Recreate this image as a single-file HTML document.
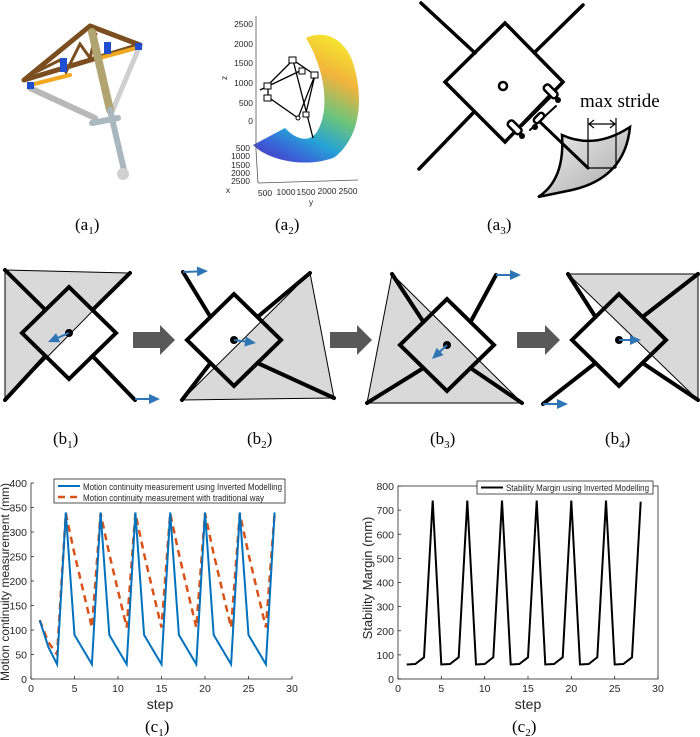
<!DOCTYPE html>
<html><head><meta charset="utf-8"><style>
body{margin:0;background:#fff;}
svg{display:block;font-family:"Liberation Sans",sans-serif;}
.lab{font-family:"Liberation Serif",serif;font-size:17px;}
.tk{font-size:10.5px;fill:#262626;}
</style></head><body>
<svg id="s" width="700" height="737" viewBox="0 0 700 737" xmlns="http://www.w3.org/2000/svg">
<defs>
<linearGradient id="cr" x1="330" y1="35" x2="265" y2="160" gradientUnits="userSpaceOnUse">
<stop offset="0" stop-color="#f6e62c"/><stop offset="0.25" stop-color="#f1b43e"/><stop offset="0.5" stop-color="#6cc47c"/><stop offset="0.72" stop-color="#25a2d6"/><stop offset="0.88" stop-color="#3a62d8"/><stop offset="1" stop-color="#4a3ec0"/></linearGradient>
<linearGradient id="ft" x1="0" y1="0" x2="1" y2="1"><stop offset="0" stop-color="#f2f2f2"/><stop offset="1" stop-color="#a8a8a8"/></linearGradient>
</defs>
<!-- a1 -->
<g stroke-linecap="round">
<line x1="30" y1="88" x2="95" y2="118" stroke="#b8b8b8" stroke-width="6"/>
<line x1="138" y1="50" x2="112" y2="112" stroke="#cfcfcf" stroke-width="5"/>
<polygon points="24,80 90,26 140,45" fill="none" stroke="#7a4e1e" stroke-width="5" stroke-linejoin="round"/>
<polyline points="36,72 60,60 66,72 80,44 90,58 96,34" fill="none" stroke="#7a4e1e" stroke-width="3"/>
<line x1="30" y1="85" x2="70" y2="75" stroke="#f0a820" stroke-width="4"/>
<line x1="100" y1="58" x2="140" y2="47" stroke="#f0a820" stroke-width="4"/>
<rect x="60" y="58" width="7" height="14" fill="#1f4fd0"/><rect x="104" y="42" width="7" height="12" fill="#1f4fd0"/>
<rect x="27" y="82" width="7" height="7" fill="#1f4fd0"/><rect x="135" y="43" width="7" height="7" fill="#1f4fd0"/>
<line x1="92" y1="32" x2="110" y2="110" stroke="#b0a470" stroke-width="8"/>
<line x1="110" y1="110" x2="124" y2="170" stroke="#a8b6be" stroke-width="6"/>
<line x1="92" y1="123" x2="118" y2="118" stroke="#aab8c0" stroke-width="6"/>
<circle cx="123" cy="174" r="6" fill="#d0d0d0"/>
</g>
<text class="lab" x="75" y="230">(a<tspan font-size="11" dy="4">1</tspan><tspan dy="-4">)</tspan></text>
<!-- a2 -->
<path d="M306,38 C322,30 342,36 352,60 C364,95 362,135 335,157 C310,168 270,162 253,145 L285,128 C298,142 312,142 318,130 C330,108 325,70 306,38 Z" fill="url(#cr)"/>
<g fill="none" stroke="#000" stroke-width="1.3">
<polyline points="268,85 293,60 315,75 298,118 268,97 268,85"/>
<line x1="293" y1="60" x2="313" y2="138"/><line x1="315" y1="75" x2="305" y2="117"/><line x1="302" y1="70" x2="260" y2="90"/>
</g>
<g fill="#fff" stroke="#000" stroke-width="1"><rect x="289" y="57" width="7" height="6"/><rect x="299" y="68" width="6" height="6"/><rect x="311" y="72" width="7" height="6"/><rect x="264" y="83" width="7" height="6"/><rect x="264" y="95" width="7" height="6"/><circle cx="298" cy="118" r="2"/><rect x="303" y="112" width="6" height="5"/></g>
<g stroke="#555" stroke-width="0.8"><line x1="256" y1="16" x2="256" y2="150"/><line x1="256" y1="150" x2="258" y2="183"/><line x1="258" y1="183" x2="358" y2="180"/></g>
<g class="tk" text-anchor="end" style="font-size:8.5px"><text x="253" y="27">2500</text><text x="253" y="47">2000</text><text x="253" y="66">1500</text><text x="253" y="86">1000</text><text x="253" y="106">500</text><text x="253" y="124">0</text>
<text x="250" y="151">500</text><text x="250" y="159">1000</text><text x="250" y="168">1500</text><text x="250" y="176">2000</text><text x="250" y="184">2500</text></g>
<g class="tk" style="font-size:8.5px" text-anchor="middle"><text x="265" y="196">500</text><text x="286" y="195">1000</text><text x="306" y="195">1500</text><text x="327" y="194">2000</text><text x="348" y="194">2500</text><text x="311" y="205">y</text><text x="228" y="193">x</text><text x="225" y="80" transform="rotate(-90 225 78)">z</text></g>
<text class="lab" x="275" y="230">(a<tspan font-size="11" dy="4">2</tspan><tspan dy="-4">)</tspan></text>
<!-- a3 -->
<g stroke="#000" stroke-width="3.5" fill="none" stroke-linecap="round">
<line x1="421" y1="3" x2="475" y2="53"/><line x1="583" y1="5" x2="535" y2="52"/><line x1="419" y1="169" x2="474" y2="112"/>
<polygon points="505,23 563,82 505,142 445,82" stroke-linejoin="miter"/>
<path d="M562,135 Q595,150 630,127 Q625,178 572,190 L538,197 Q565,180 562,135 Z" fill="url(#ft)" stroke-width="2.5"/>
<line x1="540" y1="122" x2="588" y2="168" stroke-width="3"/>
<line x1="522" y1="126" x2="550" y2="98" stroke-width="2"/><line x1="530" y1="130" x2="556" y2="106" stroke-width="2"/>
</g>
<circle cx="503" cy="86" r="4" fill="none" stroke="#000" stroke-width="2.5"/>
<g fill="#fff" stroke="#000" stroke-width="2.5"><rect x="543" y="88" width="16" height="7" rx="3" transform="rotate(45 551 91)"/><rect x="507" y="124" width="16" height="7" rx="3" transform="rotate(45 515 127)"/><rect x="533" y="115" width="12" height="6" rx="3" transform="rotate(-45 539 118)"/></g>
<circle cx="558" cy="100" r="3"/><circle cx="522" cy="136" r="3"/><circle cx="535" cy="127" r="3"/>
<g stroke="#000" stroke-width="1.2" fill="none"><line x1="588" y1="118" x2="588" y2="168"/><line x1="616" y1="118" x2="616" y2="168"/><line x1="588" y1="168" x2="616" y2="168"/><line x1="589" y1="124" x2="615" y2="124"/><polyline points="594,120 589,124 594,128"/><polyline points="610,120 615,124 610,128"/></g>
<text x="580" y="107" style="font-family:'Liberation Serif',serif;font-size:19px">max stride</text>
<text class="lab" x="487" y="230">(a<tspan font-size="11" dy="4">3</tspan><tspan dy="-4">)</tspan></text>
<!-- b row -->
<g id="b"></g>
<g fill="#595959"><polygon points="133,332 160,332 160,325 175,340 160,355 160,348 133,348"/><polygon points="330,332 357,332 357,325 372,340 357,355 357,348 330,348"/><polygon points="517,332 545,332 545,325 560,340 545,355 545,348 517,348"/></g>
<text class="lab" x="53" y="444">(b<tspan font-size="11" dy="4">1</tspan><tspan dy="-4">)</tspan></text>
<text class="lab" x="247" y="444">(b<tspan font-size="11" dy="4">2</tspan><tspan dy="-4">)</tspan></text>
<text class="lab" x="430" y="444">(b<tspan font-size="11" dy="4">3</tspan><tspan dy="-4">)</tspan></text>
<text class="lab" x="605" y="444">(b<tspan font-size="11" dy="4">4</tspan><tspan dy="-4">)</tspan></text>
<!-- c -->
<g id="c"></g>
<text x="9" y="582" text-anchor="middle" transform="rotate(-90 9 582)" style="font-size:12px;fill:#262626">Motion continuity measurement (mm)</text>
<text x="160" y="709" text-anchor="middle" style="font-size:14px;fill:#262626">step</text>
<text x="372" y="578" text-anchor="middle" transform="rotate(-90 372 578)" style="font-size:13px;fill:#262626">Stability Margin (mm)</text>
<text x="528" y="709" text-anchor="middle" style="font-size:14px;fill:#262626">step</text>
<text class="lab" x="145" y="732">(c<tspan font-size="11" dy="4">1</tspan><tspan dy="-4">)</tspan></text>
<text class="lab" x="512" y="732">(c<tspan font-size="11" dy="4">2</tspan><tspan dy="-4">)</tspan></text>
</svg>
<script>
var NS="http://www.w3.org/2000/svg";
function el(p,t,a,txt){var e=document.createElementNS(NS,t);for(var k in a)e.setAttribute(k,a[k]);if(txt!=null)e.textContent=txt;p.appendChild(e);return e;}
var B=document.getElementById('b');
function arrow(x1,y1,x2,y2){var dx=x2-x1,dy=y2-y1,L=Math.hypot(dx,dy),ux=dx/L,uy=dy/L;var hx=x2-ux*11,hy=y2-uy*11;
el(B,'line',{x1:x1,y1:y1,x2:hx,y2:hy,stroke:'#2e75b6','stroke-width':2});
el(B,'polygon',{points:x2+','+y2+' '+(hx-uy*5)+','+(hy+ux*5)+' '+(hx+uy*5)+','+(hy-ux*5),fill:'#2e75b6'});}
function panel(c,f,g,ab,af){
var cx=c[0],cy=c[1],h=47,v=46;
var pts=g.map(function(i){return f[i].join(',')}).join(' ');
el(B,'polygon',{points:pts,fill:'#d9d9d9',stroke:'#000','stroke-width':1});
var mids=[[cx-h/2,cy-v/2],[cx+h/2,cy-v/2],[cx-h/2,cy+v/2],[cx+h/2,cy+v/2]];
for(var i=0;i<4;i++)el(B,'line',{x1:f[i][0],y1:f[i][1],x2:mids[i][0],y2:mids[i][1],stroke:'#000','stroke-width':4,'stroke-linecap':'round'});
el(B,'polygon',{points:cx+','+(cy-v)+' '+(cx+h)+','+cy+' '+cx+','+(cy+v)+' '+(cx-h)+','+cy,fill:'none',stroke:'#000','stroke-width':4});
el(B,'circle',{cx:cx,cy:cy,r:4,fill:'#000'});
arrow(cx,cy,ab[0],ab[1]);arrow(af[0],af[1],af[2],af[3]);}
panel([69,333],[[5,270],[130,273],[5,400],[135,400]],[0,1,2],[48,342],[135,399,160,399]);
panel([234,340],[[183,272],[310,273],[182,400],[334,398]],[1,3,2],[256,343],[183,272,208,271]);
panel([447,345],[[392,274],[496,275],[367,403],[522,403]],[0,3,2],[432,359],[496,275,521,275]);
panel([619,340],[[568,274],[698,274],[543,404],[698,400]],[0,1,3],[641,340],[543,404,568,404]);
var C=document.getElementById('c');
function plot(x0,x1,yb,yt,ymax,ystep,box){
var sx=(x1-x0)/30,sy=(yb-yt)/ymax;
if(box)el(C,'rect',{x:x0,y:yt,width:x1-x0,height:yb-yt,fill:'none',stroke:'#262626','stroke-width':0.8});
else{el(C,'line',{x1:x0,y1:yt,x2:x0,y2:yb,stroke:'#262626','stroke-width':0.8});el(C,'line',{x1:x0,y1:yb,x2:x1,y2:yb,stroke:'#262626','stroke-width':0.8});}
for(var v=0;v<=ymax;v+=ystep){var y=yb-v*sy;el(C,'line',{x1:x0,y1:y,x2:x0+3,y2:y,stroke:'#262626','stroke-width':0.8});el(C,'text',{x:x0-4,y:y+4,'text-anchor':'end','class':'tk'},v);}
for(var s=0;s<=30;s+=5){var x=x0+s*sx;el(C,'line',{x1:x,y1:yb,x2:x,y2:yb-3,stroke:'#262626','stroke-width':0.8});el(C,'text',{x:x,y:yb+13,'text-anchor':'middle','class':'tk'},s);}
return function(d){return d.map(function(v,i){return (x0+(i+1)*sx).toFixed(1)+','+(yb-v*sy).toFixed(1)}).join(' ');};}
var p1=plot(31,292,679,483,400,50,false);
var blue=[120,65,30],red=[120,75,50];
for(var k=0;k<6;k++){blue.push(340,90,60,30);red.push(338,255,180,105);}
blue.push(340);red.push(338);
el(C,'polyline',{points:p1(red),fill:'none',stroke:'#d95319','stroke-width':2.5,'stroke-dasharray':'7,5'});
el(C,'polyline',{points:p1(blue),fill:'none',stroke:'#0072bd','stroke-width':2});
el(C,'rect',{x:54,y:479,width:231,height:24,fill:'#fff',stroke:'#262626','stroke-width':0.8});
el(C,'line',{x1:58,y1:486,x2:80,y2:486,stroke:'#0072bd','stroke-width':2});
el(C,'line',{x1:58,y1:497,x2:80,y2:497,stroke:'#d95319','stroke-width':2.5,'stroke-dasharray':'7,5'});
el(C,'text',{x:83,y:490,'class':'tk',style:'font-size:9.5px',textLength:199,lengthAdjust:'spacingAndGlyphs'},'Motion continuity measurement using Inverted Modelling');
el(C,'text',{x:83,y:501,'class':'tk',style:'font-size:9.5px',textLength:181,lengthAdjust:'spacingAndGlyphs'},'Motion continuity measurement with traditional way');
var p2=plot(398,658,679,486,800,100,true);
var st=[60,62,90];for(var k=0;k<6;k++)st.push(740,60,62,90);st.push(735);
el(C,'polyline',{points:p2(st),fill:'none',stroke:'#000','stroke-width':2});
el(C,'rect',{x:477,y:481,width:176,height:13,fill:'#fff',stroke:'#262626','stroke-width':0.8});
el(C,'line',{x1:481,y1:487.5,x2:503,y2:487.5,stroke:'#000','stroke-width':2});
el(C,'text',{x:506,y:491,'class':'tk',style:'font-size:9.5px',textLength:143,lengthAdjust:'spacingAndGlyphs'},'Stability Margin using Inverted Modelling');
</script>
</body></html>
